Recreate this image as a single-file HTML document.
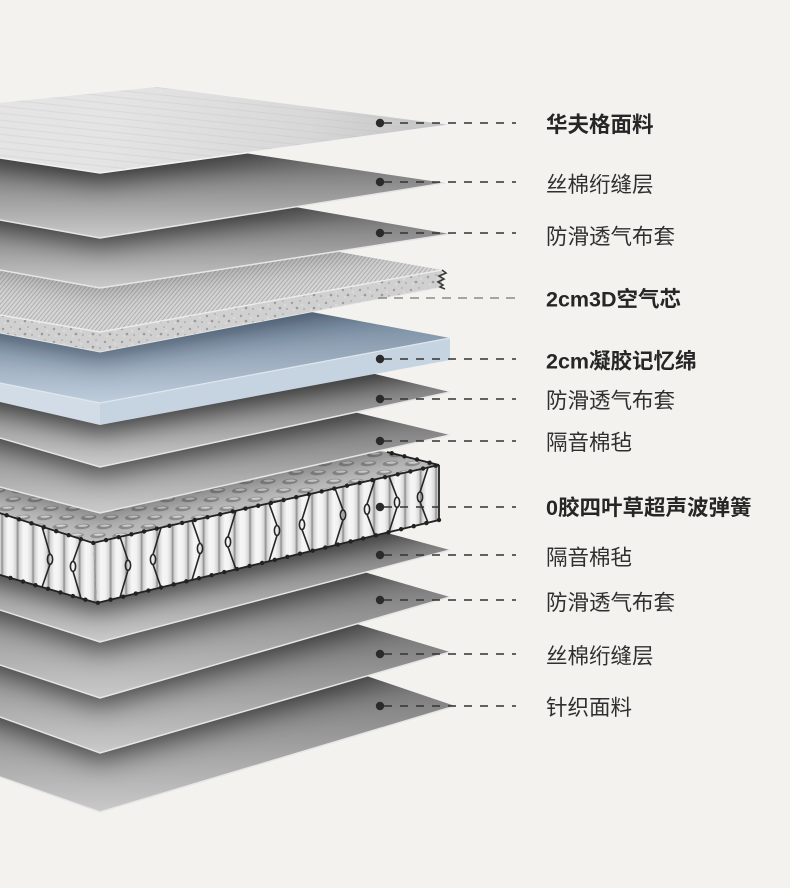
<!DOCTYPE html>
<html><head><meta charset="utf-8">
<style>
html,body{margin:0;padding:0;background:#f3f2ee;width:790px;height:888px;overflow:hidden}
svg{display:block}
text{font-family:"Liberation Sans","Noto Sans CJK SC",sans-serif;font-size:21.5px;fill:#2f2f2f}
.b{font-weight:700;fill:#262626}
</style></head>
<body>
<svg width="790" height="888" viewBox="0 0 790 888" xmlns="http://www.w3.org/2000/svg">
<defs>
  <filter id="bl" filterUnits="userSpaceOnUse" x="-200" y="-100" width="1200" height="1100"><feGaussianBlur stdDeviation="13"/></filter>
  <linearGradient id="g2" gradientUnits="userSpaceOnUse" x1="0" y1="168" x2="0" y2="238"><stop offset="0" stop-color="#7c7c7c"/><stop offset="1" stop-color="#cacaca"/></linearGradient>
  <linearGradient id="g3" gradientUnits="userSpaceOnUse" x1="0" y1="219" x2="0" y2="288"><stop offset="0" stop-color="#7c7c7c"/><stop offset="1" stop-color="#cacaca"/></linearGradient>
  <linearGradient id="g6" gradientUnits="userSpaceOnUse" x1="0" y1="377" x2="0" y2="467"><stop offset="0" stop-color="#7c7c7c"/><stop offset="1" stop-color="#cacaca"/></linearGradient>
  <linearGradient id="g7" gradientUnits="userSpaceOnUse" x1="0" y1="420" x2="0" y2="513"><stop offset="0" stop-color="#7c7c7c"/><stop offset="1" stop-color="#cacaca"/></linearGradient>
  <linearGradient id="g9" gradientUnits="userSpaceOnUse" x1="0" y1="535" x2="0" y2="642"><stop offset="0" stop-color="#7c7c7c"/><stop offset="1" stop-color="#cacaca"/></linearGradient>
  <linearGradient id="g10" gradientUnits="userSpaceOnUse" x1="0" y1="582" x2="0" y2="698"><stop offset="0" stop-color="#7c7c7c"/><stop offset="1" stop-color="#cacaca"/></linearGradient>
  <linearGradient id="g11" gradientUnits="userSpaceOnUse" x1="0" y1="637" x2="0" y2="753"><stop offset="0" stop-color="#7c7c7c"/><stop offset="1" stop-color="#cacaca"/></linearGradient>
  <linearGradient id="g12" gradientUnits="userSpaceOnUse" x1="0" y1="691" x2="0" y2="812"><stop offset="0" stop-color="#7c7c7c"/><stop offset="1" stop-color="#cacaca"/></linearGradient>
  <linearGradient id="g1" gradientUnits="userSpaceOnUse" x1="120" y1="90" x2="430" y2="165"><stop offset="0" stop-color="#e4e4e4"/><stop offset="0.6" stop-color="#d8d8d8"/><stop offset="1" stop-color="#c4c4c4"/></linearGradient>
  <linearGradient id="gBlue" gradientUnits="userSpaceOnUse" x1="0" y1="300" x2="0" y2="403"><stop offset="0" stop-color="#6a7e94"/><stop offset="1" stop-color="#bfcddc"/></linearGradient>
  <linearGradient id="cylg" x1="0" y1="0" x2="1" y2="0">
    <stop offset="0" stop-color="#8a8a8a"/><stop offset="0.12" stop-color="#d4d4d4"/><stop offset="0.38" stop-color="#f6f6f6"/><stop offset="0.66" stop-color="#f2f2f2"/><stop offset="0.9" stop-color="#d6d6d6"/><stop offset="1" stop-color="#909090"/>
  </linearGradient>
  <pattern id="cyl" patternUnits="userSpaceOnUse" x="2" y="0" width="15.5" height="900"><rect width="15.5" height="900" fill="url(#cylg)"/></pattern>
  <pattern id="hex" patternUnits="userSpaceOnUse" width="22" height="9" patternTransform="skewX(-35)">
    <rect width="22" height="9" fill="#c0c0c0"/>
    <ellipse cx="11" cy="4.5" rx="7.5" ry="2.8" fill="#929292"/>
    <ellipse cx="11" cy="3.6" rx="5" ry="1.2" fill="#d8d8d8"/>
  </pattern>
  <pattern id="hatch" patternUnits="userSpaceOnUse" width="3.2" height="3.2" patternTransform="rotate(40)">
    <rect width="3.2" height="3.2" fill="#d6d6d6"/><rect width="1" height="3.2" fill="#b0b0b0"/>
  </pattern>
  <pattern id="foam" patternUnits="userSpaceOnUse" width="17" height="13">
    <rect width="17" height="13" fill="#d0d0d0"/>
    <circle cx="3" cy="4" r="1.2" fill="#9e9e9e"/><circle cx="11" cy="2" r="0.9" fill="#ababab"/>
    <circle cx="8" cy="9" r="1.3" fill="#999"/><circle cx="15" cy="10" r="1" fill="#adadad"/>
    <circle cx="13" cy="6" r="0.8" fill="#e8e8e8"/><circle cx="5" cy="11" r="0.8" fill="#e6e6e6"/>
  </pattern>
  <pattern id="waf" patternUnits="userSpaceOnUse" width="40" height="7" patternTransform="rotate(6)">
    <rect width="40" height="1" fill="#b6b6b6"/>
  </pattern>
  <clipPath id="cL12"><polygon points="-80,605 157,605 455,706 100,812 -80,749"/></clipPath>
  <clipPath id="cL11"><polygon points="-80,564 157,564 450,652 100,753 -80,688.2"/></clipPath>
  <clipPath id="cL10"><polygon points="-80,512 157,512 450,597 100,698 -80,638.6"/></clipPath>
  <clipPath id="cL9"><polygon points="-80,471 157,471 450,550 100,642 -80,584.4"/></clipPath>
  <clipPath id="cSp"><polygon points="-80,395 387,452 439,465 93,543 -80,487.6"/></clipPath>
  <clipPath id="cL7"><polygon points="-80,365 157,365 450,435 100,513 -80,466.2"/></clipPath>
  <clipPath id="cL6"><polygon points="-80,322 157,322 450,392 100,467 -80,414.8"/></clipPath>
  <clipPath id="cBl"><polygon points="-80,283 157,283 450,338 100,403 -80,367"/></clipPath>
  <clipPath id="cAir"><polygon points="-80,220 157,220 442,270 100,332 -80,301.4"/></clipPath>
  <clipPath id="cL3"><polygon points="-80,183 157,183 450,234 100,288 -80,255.6"/></clipPath>
  <clipPath id="cL2"><polygon points="-80,140 157,140 445,183 100,238 -80,205.6"/></clipPath>
</defs>

<rect width="790" height="888" fill="#f3f2ee"/>

<!-- L12 -->
<polygon points="-80,605 157,605 455,706 100,812 -80,749" fill="url(#g12)"/>
<polyline points="-80,749 100,812 455,706" fill="none" stroke="#e6e6e6" stroke-width="1.5"/>
<g clip-path="url(#cL12)"><g transform="translate(0,8)"><polygon points="-80,564 157,564 450,652 100,753 -80,688.2" fill="#000" opacity=".55" filter="url(#bl)"/></g></g>
<!-- L11 -->
<polygon points="-80,564 157,564 450,652 100,753 -80,688.2" fill="url(#g11)"/>
<polyline points="-80,688.2 100,753 450,652" fill="none" stroke="#e6e6e6" stroke-width="1.5"/>
<g clip-path="url(#cL11)"><g transform="translate(0,8)"><polygon points="-80,512 157,512 450,597 100,698 -80,638.6" fill="#000" opacity=".55" filter="url(#bl)"/></g></g>
<!-- L10 -->
<polygon points="-80,512 157,512 450,597 100,698 -80,638.6" fill="url(#g10)"/>
<polyline points="-80,638.6 100,698 450,597" fill="none" stroke="#e6e6e6" stroke-width="1.5"/>
<g clip-path="url(#cL10)"><g transform="translate(0,8)"><polygon points="-80,471 157,471 450,550 100,642 -80,584.4" fill="#000" opacity=".55" filter="url(#bl)"/></g></g>
<!-- L9 -->
<polygon points="-80,471 157,471 450,550 100,642 -80,584.4" fill="url(#g9)"/>
<polyline points="-80,584.4 100,642 450,550" fill="none" stroke="#e6e6e6" stroke-width="1.5"/>
<g clip-path="url(#cL9)"><g transform="translate(0,8)"><polygon points="-80,395 387,452 439,465 439,520 97,603 -80,551.7" fill="#000" opacity=".6" filter="url(#bl)"/></g></g>

<!-- Spring -->
<polygon points="-80,487.6 93,543 97,603 -80,551.7" fill="url(#cyl)"/>
<polygon points="93,543 439,465 439,520 97,603" fill="url(#cyl)"/>
<polygon points="-80,395 387,452 439,465 93,543 -80,487.6" fill="url(#hex)"/>
<g fill="none" stroke="#262626" stroke-width="1.6">
  <path d="M42,526.7 L50,554.3 M50,564.3 L42,587.1"/><ellipse cx="50" cy="559.3" rx="2.6" ry="5"/>
  <path d="M81,539.2 L73,561.4 M73,571.4 L81,598.4"/><ellipse cx="73" cy="566.4" rx="2.6" ry="5"/>
  <path d="M120,536.9 L128,560.3 M128,570.3 L120,597.4"/><ellipse cx="128" cy="565.3" rx="2.6" ry="5"/>
  <path d="M161,527.7 L153,554.5 M153,564.5 L161,587.5"/><ellipse cx="153" cy="559.5" rx="2.6" ry="5"/>
  <path d="M192,520.7 L200,543.5 M200,553.5 L192,579.9"/><ellipse cx="200" cy="548.5" rx="2.6" ry="5"/>
  <path d="M236,510.8 L228,536.9 M228,546.9 L236,569.3"/><ellipse cx="228" cy="541.9" rx="2.6" ry="5"/>
  <path d="M269,503.3 L277,525.5 M277,535.5 L269,561.3"/><ellipse cx="277" cy="530.5" rx="2.6" ry="5"/>
  <path d="M310,494.1 L302,519.6 M302,529.6 L310,551.4"/><ellipse cx="302" cy="524.6" rx="2.6" ry="5"/>
  <path d="M335,488.4 L343,509.9 M343,519.9 L335,545.2"/><ellipse cx="343" cy="514.9" rx="2.6" ry="5"/>
  <path d="M375,479.4 L367,504.3 M367,514.3 L375,535.5"/><ellipse cx="367" cy="509.3" rx="2.6" ry="5"/>
  <path d="M389,476.3 L397,497.3 M397,507.3 L389,532.1"/><ellipse cx="397" cy="502.3" rx="2.6" ry="5"/>
  <path d="M428,467.5 L420,492 M420,502 L428,522.7"/><ellipse cx="420" cy="497" rx="2.6" ry="5"/>
</g>
<g fill="none" stroke="#222">
  <path d="M-80,487.6 L93,543 L439,465 L387,452 M439,465 L439,520 L97,603 L-80,551.7" stroke-width="1.8"/>
  <path d="M-80,487.6 L93,543 L439,465 L387,452 M439,520 L97,603 L-80,551.7" stroke-width="4.4" stroke-linecap="round" stroke-dasharray="0 13"/>
</g>
<g clip-path="url(#cSp)"><g transform="translate(0,6)"><polygon points="-80,365 157,365 450,435 100,513 -80,466.2" fill="#000" opacity=".4" filter="url(#bl)"/></g></g>

<!-- L7 -->
<polygon points="-80,365 157,365 450,435 100,513 -80,466.2" fill="url(#g7)"/>
<polyline points="-80,466.2 100,513 450,435" fill="none" stroke="#e6e6e6" stroke-width="1.5"/>
<g clip-path="url(#cL7)"><g transform="translate(0,8)"><polygon points="-80,322 157,322 450,392 100,467 -80,414.8" fill="#000" opacity=".55" filter="url(#bl)"/></g></g>
<!-- L6 -->
<polygon points="-80,322 157,322 450,392 100,467 -80,414.8" fill="url(#g6)"/>
<polyline points="-80,414.8 100,467 450,392" fill="none" stroke="#e6e6e6" stroke-width="1.5"/>
<g clip-path="url(#cL6)"><g transform="translate(0,8)"><polygon points="-80,283 157,283 450,338 450,360 100,425 -80,383.6" fill="#000" opacity=".62" filter="url(#bl)"/></g></g>

<!-- Blue gel memory foam -->
<polygon points="-80,367 100,403 100,425 -80,383.6" fill="#d2dce7"/>
<polygon points="100,403 450,338 450,360 100,425" fill="#c6d4e2"/>
<polygon points="-80,283 157,283 450,338 100,403 -80,367" fill="url(#gBlue)"/>
<polyline points="-80,367 100,403 450,338" fill="none" stroke="#dfe7ef" stroke-width="1.2"/>
<g clip-path="url(#cBl)"><g transform="translate(0,8)"><polygon points="-80,220 157,220 442,270 442,287 100,352 -80,317.8" fill="#142234" opacity=".5" filter="url(#bl)"/></g></g>

<!-- 3D air core -->
<polygon points="-80,301.4 100,332 100,352 -80,317.8" fill="url(#foam)"/>
<polygon points="100,332 442,270 442,287 100,352" fill="url(#foam)"/>
<polygon points="-80,220 157,220 442,270 100,332 -80,301.4" fill="url(#hatch)"/>
<polyline points="-80,301.4 100,332 442,270" fill="none" stroke="#ececec" stroke-width="1.4"/>
<polyline points="-80,317.8 100,352 442,287" fill="none" stroke="#e4e4e4" stroke-width="1"/>
<polyline points="442,270 446,273 439,276 444,279 438,282 443,285 440,287 445,289" fill="none" stroke="#3a3a3a" stroke-width="1.6"/>
<g clip-path="url(#cAir)"><g transform="translate(0,6)"><polygon points="-80,183 157,183 450,234 100,288 -80,255.6" fill="#000" opacity=".25" filter="url(#bl)"/></g></g>

<!-- L3 -->
<polygon points="-80,183 157,183 450,234 100,288 -80,255.6" fill="url(#g3)"/>
<polyline points="-80,255.6 100,288 450,234" fill="none" stroke="#e6e6e6" stroke-width="1.5"/>
<g clip-path="url(#cL3)"><g transform="translate(0,8)"><polygon points="-80,140 157,140 445,183 100,238 -80,205.6" fill="#000" opacity=".55" filter="url(#bl)"/></g></g>
<!-- L2 -->
<polygon points="-80,140 157,140 445,183 100,238 -80,205.6" fill="url(#g2)"/>
<polyline points="-80,205.6 100,238 445,183" fill="none" stroke="#e6e6e6" stroke-width="1.5"/>
<g clip-path="url(#cL2)"><g transform="translate(0,8)"><polygon points="-80,111 157,87 450,125 100,173 -80,146" fill="#000" opacity=".6" filter="url(#bl)"/></g></g>
<!-- L1 waffle top -->
<polygon points="-80,111 157,87 450,125 100,173 -80,146" fill="url(#g1)"/>
<polygon points="-80,111 157,87 450,125 100,173 -80,146" fill="url(#waf)" opacity=".25"/>
<polyline points="-80,146 100,173 450,125" fill="none" stroke="#f2f2f2" stroke-width="1.6"/>

<!-- leader lines -->
<g stroke="#333" stroke-width="1.6" stroke-dasharray="8 8">
  <line x1="384" y1="123" x2="516" y2="123"/>
  <line x1="384" y1="182" x2="516" y2="182"/>
  <line x1="384" y1="233" x2="516" y2="233"/>
  <line x1="384" y1="359" x2="516" y2="359"/>
  <line x1="384" y1="399" x2="516" y2="399"/>
  <line x1="384" y1="441" x2="516" y2="441"/>
  <line x1="384" y1="507" x2="516" y2="507"/>
  <line x1="384" y1="555" x2="516" y2="555"/>
  <line x1="384" y1="600" x2="516" y2="600"/>
  <line x1="384" y1="654" x2="516" y2="654"/>
  <line x1="384" y1="706" x2="516" y2="706"/>
</g>
<line x1="378" y1="298" x2="516" y2="298" stroke="#8a8a8a" stroke-width="1.6" stroke-dasharray="9 7"/>
<g fill="#2b2b2b">
  <circle cx="380" cy="123" r="4.2"/>
  <circle cx="380" cy="182" r="4.2"/>
  <circle cx="380" cy="233" r="4.2"/>
  <circle cx="380" cy="359" r="4.2"/>
  <circle cx="380" cy="399" r="4.2"/>
  <circle cx="380" cy="441" r="4.2"/>
  <circle cx="380" cy="507" r="4.2"/>
  <circle cx="380" cy="555" r="4.2"/>
  <circle cx="380" cy="600" r="4.2"/>
  <circle cx="380" cy="654" r="4.2"/>
  <circle cx="380" cy="706" r="4.2"/>
</g>

<!-- labels -->
<text class="b" x="546" y="132">华夫格面料</text>
<text x="546" y="192">丝棉绗缝层</text>
<text x="546" y="244">防滑透气布套</text>
<text class="b" x="546" y="306.5">2cm3D空气芯</text>
<text class="b" x="546" y="368.5">2cm凝胶记忆绵</text>
<text x="546" y="408">防滑透气布套</text>
<text x="546" y="450">隔音棉毡</text>
<text class="b" x="546" y="515">0胶四叶草超声波弹簧</text>
<text x="546" y="565">隔音棉毡</text>
<text x="546" y="610">防滑透气布套</text>
<text x="546" y="663.5">丝棉绗缝层</text>
<text x="546" y="715">针织面料</text>
</svg>
</body></html>
